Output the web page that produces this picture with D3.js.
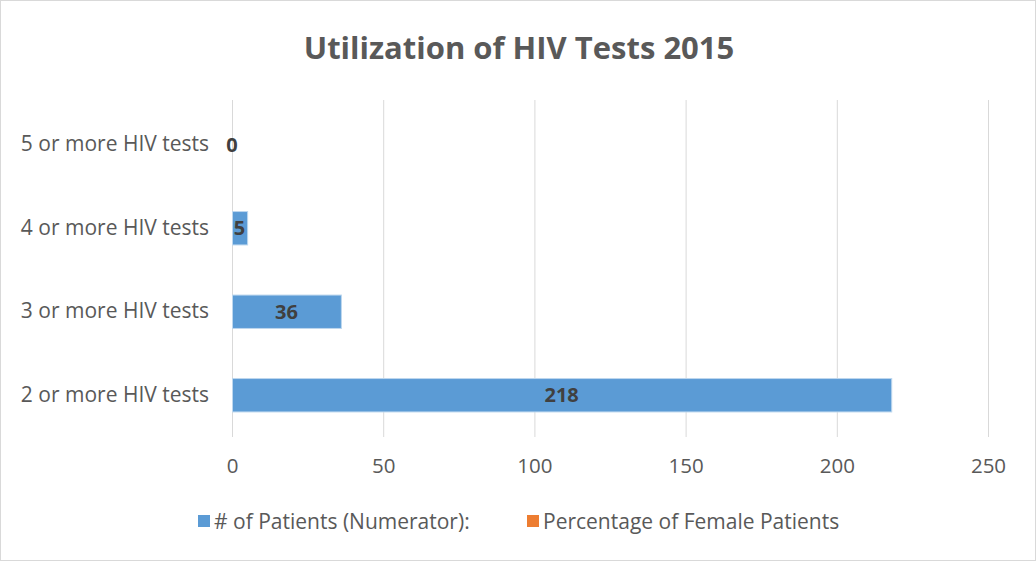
<!DOCTYPE html>
<html>
<head>
<meta charset="utf-8">
<script src="https://cdn.jsdelivr.net/npm/d3@7"></script>
<style>
  body { margin: 0; background: #fff; }
  text { font-family: "Open Sans", "Liberation Sans", sans-serif; }
</style>
</head>
<body>
<div id="chart-area"></div>
<script>
var categories = ["5 or more HIV tests", "4 or more HIV tests", "3 or more HIV tests", "2 or more HIV tests"];
var patients = [0, 5, 36, 218];
var seriesNames = ["# of Patients (Numerator):", "Percentage of Female Patients"];
var seriesColors = ["#5B9BD5", "#ED7D31"];
var xTicks = [0, 50, 100, 150, 200, 250];

var W = 1036, H = 561;
var margin = {left: 232, right: 48, top: 103, bottom: 124};
var width = W - margin.left - margin.right,
    height = H - margin.top - margin.bottom;

var svg = d3.select("#chart-area").append("svg")
    .attr("width", W)
    .attr("height", H);

// chart border
svg.append("rect")
    .attr("x", 0.5).attr("y", 0.5)
    .attr("width", W - 1).attr("height", H - 1)
    .attr("fill", "#fff")
    .attr("stroke", "#D9D9D9");

// title
svg.append("text")
    .attr("x", 519)
    .attr("y", 59)
    .attr("text-anchor", "middle")
    .attr("font-size", "31px")
    .attr("font-weight", "bold")
    .attr("fill", "#595959")
    .text("Utilization of HIV Tests 2015");

var g = svg.append("g")
    .attr("transform", "translate(" + margin.left + "," + margin.top + ")");

var x = d3.scaleLinear()
    .domain([0, 250])
    .range([0, width]);

var y = d3.scaleBand()
    .domain(categories)
    .range([0, height])
    .paddingInner(0.6)
    .paddingOuter(0.3);

// gridlines
g.selectAll(".grid")
    .data(xTicks)
    .enter()
    .append("line")
    .attr("x1", function (d) { return x(d) + 0.5; })
    .attr("x2", function (d) { return x(d) + 0.5; })
    .attr("y1", -3)
    .attr("y2", height)
    .attr("stroke", "#D9D9D9")
    .attr("stroke-width", 1);

// x axis
var xAxis = g.append("g")
    .attr("transform", "translate(0," + height + ")")
    .call(d3.axisBottom(x).tickValues(xTicks).tickSize(0).tickPadding(21));
xAxis.select(".domain").remove();
xAxis.selectAll("text")
    .attr("font-size", "20.5px")
    .attr("fill", "#595959")
    .style("font-family", "'Open Sans', sans-serif");

// y axis
var yAxis = g.append("g")
    .call(d3.axisLeft(y).tickSize(0).tickPadding(23));
yAxis.select(".domain").remove();
yAxis.selectAll("text")
    .attr("font-size", "21px")
    .attr("fill", "#595959")
    .style("font-family", "'Open Sans', sans-serif");

// bars
g.selectAll(".bar")
    .data(patients)
    .enter()
    .append("rect")
    .attr("x", x(0) + 0.5)
    .attr("y", function (d, i) { return y(categories[i]); })
    .attr("width", function (d) { return Math.max(0, x(d) - x(0)); })
    .attr("height", y.bandwidth())
    .attr("fill", seriesColors[0])
    .attr("stroke", function (d) { return d > 0 ? "#BDD7EE" : "none"; })
    .attr("stroke-width", 1);

// data labels
g.selectAll(".lbl")
    .data(patients)
    .enter()
    .append("text")
    .attr("x", function (d) { return x(d / 2); })
    .attr("y", function (d, i) { return y(categories[i]) + y.bandwidth() / 2; })
    .attr("dy", "0.36em")
    .attr("text-anchor", "middle")
    .attr("font-size", "20px")
    .attr("font-weight", "bold")
    .attr("fill", "#404040")
    .text(function (d) { return d; });

// legend
var legendX = [198, 527];
var legend = svg.selectAll(".legend")
    .data(seriesNames)
    .enter()
    .append("g")
    .attr("transform", function (d, i) { return "translate(" + legendX[i] + ",521)"; });
legend.append("rect")
    .attr("x", 0).attr("y", -6)
    .attr("width", 12).attr("height", 12)
    .attr("fill", function (d, i) { return seriesColors[i]; });
legend.append("text")
    .attr("x", 16)
    .attr("dy", "0.36em")
    .attr("font-size", "21px")
    .attr("fill", "#595959")
    .text(function (d) { return d; });
</script>
</body>
</html>
